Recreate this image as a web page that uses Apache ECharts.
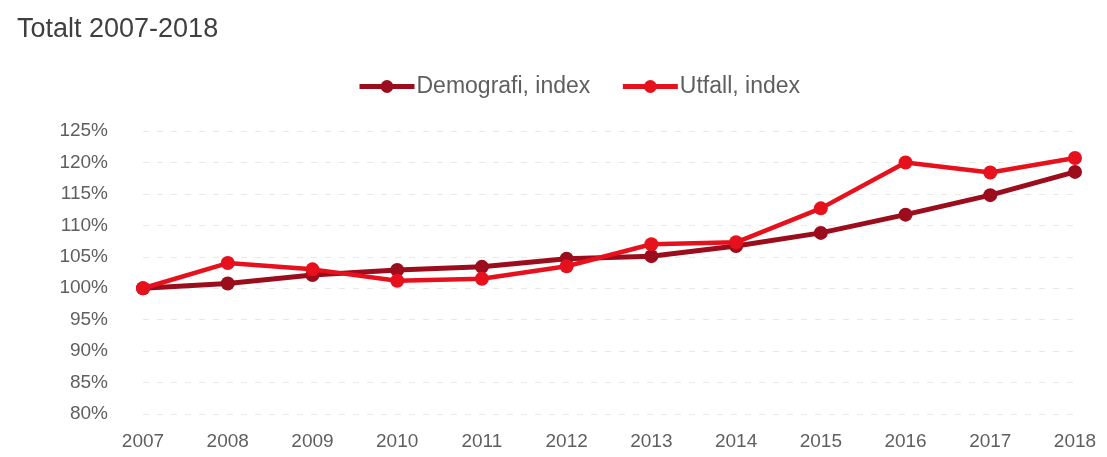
<!DOCTYPE html>
<html><head><meta charset="utf-8">
<script src="https://cdn.jsdelivr.net/npm/echarts@6/dist/echarts.min.js"></script>
<style>html,body{margin:0;padding:0;background:#fff}#c{width:1107px;height:457px}</style>
</head><body><div id="c"></div>
<script>
const categories = ['2007','2008','2009','2010','2011','2012','2013','2014','2015','2016','2017','2018'];
const demografi = [100, 100.75, 102.1, 102.9, 103.4, 104.7, 105.1, 106.7, 108.8, 111.7, 114.8, 118.5];
const utfall = [100, 104.0, 103.0, 101.2, 101.5, 103.5, 107.0, 107.3, 112.7, 120.0, 118.4, 120.7];
const seriesNames = ['Demografi, index', 'Utfall, index'];
const colors = ['#9b0d1c', '#e6111d'];

const chart = echarts.init(document.getElementById('c'), null, {renderer: 'canvas'});
const font = '"Liberation Sans", Arial, sans-serif';
chart.setOption({
  animation: false,
  backgroundColor: '#fff',
  title: {
    text: 'Totalt 2007-2018', left: 12, top: 11,
    textStyle: {fontFamily: font, fontSize: 27, fontWeight: 'normal', color: '#3f3f3f'}
  },
  legend: {
    data: seriesNames, top: 70, left: 352, itemWidth: 55, itemHeight: 16, itemGap: 30,
    lineStyle: {width: 5},
    textStyle: {fontFamily: font, fontSize: 23, color: '#5f5f5f', padding: [0, 0, 0, -3]}
  },
  grid: {left: 143, right: 32, top: 131, bottom: 43, containLabel: false},
  xAxis: {
    type: 'category', data: categories, boundaryGap: false,
    axisLine: {show: false}, axisTick: {show: false},
    axisLabel: {margin: 18, fontFamily: font, fontSize: 19, color: '#5f5f5f'}
  },
  yAxis: {
    type: 'value', min: 80, max: 125, interval: 5,
    axisLabel: {margin: 35, fontFamily: font, fontSize: 19, color: '#5f5f5f', formatter: v => v + '%'},
    axisLine: {show: false}, axisTick: {show: false},
    splitLine: {lineStyle: {color: '#e8e8e8', type: [6, 8], width: 1}}
  },
  series: [
    {name: seriesNames[0], type: 'line', data: demografi, color: colors[0], symbol: 'circle', symbolSize: 14,
     lineStyle: {width: 5}, z: 2},
    {name: seriesNames[1], type: 'line', data: utfall, color: colors[1], symbol: 'circle', symbolSize: 14,
     lineStyle: {width: 4.5}, z: 3}
  ]
});
</script></body></html>
